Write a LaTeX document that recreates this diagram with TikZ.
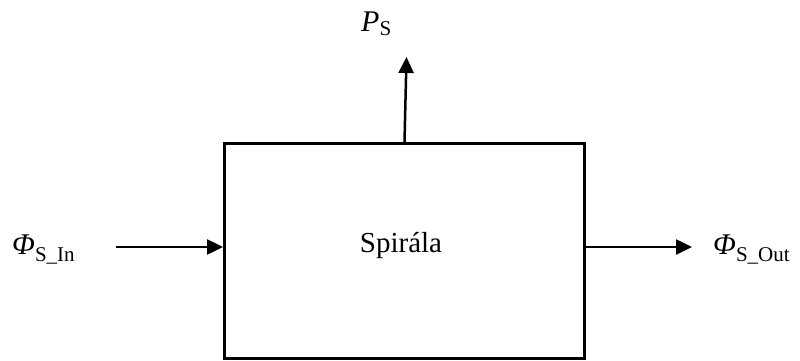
\documentclass[tikz,border=0pt]{standalone}
\usepackage{fontspec}
\setmainfont{Liberation Serif}
\usetikzlibrary{arrows.meta}
\begin{document}
\begin{tikzpicture}[x=1pt,y=-1pt,
  arr/.style={line width=2.5pt,-{Triangle[length=16pt,width=15pt]}},
  lab/.style={inner sep=0,anchor=base west,font=\fontsize{30}{36}\selectfont},
  sub/.style={}]
\useasboundingbox[fill=white] (0,0) rectangle (800,361);
\node[draw,line width=3pt,minimum width=360pt,minimum height=215pt,inner sep=0] (box) at (404.5,251) {};
\node[anchor=base,font=\fontsize{29}{35}\selectfont,inner sep=0] (t) at (401,252) {Spirála};
\node[lab] (ps) at (361,32) {\textit{P}\raisebox{-4pt}{\fontsize{21}{25}\selectfont S}};
\node[lab] (fin) at (12,254) {\textit{Φ}\raisebox{-7pt}{\fontsize{21}{25}\selectfont S\_In}};
\node[lab] (fout) at (713,254) {\textit{Φ}\raisebox{-7pt}{\fontsize{21}{25}\selectfont S\_Out}};
\coordinate (inS) at (116,247);
\coordinate (outE) at (692,247);
\coordinate (ptop) at (406.5,57);
\draw[arr] (inS) -- (inS -| box.west);
\draw[arr] (box.east |- outE) -- (outE);
\draw[arr] (box.north) -- (ptop);
\end{tikzpicture}
\end{document}
